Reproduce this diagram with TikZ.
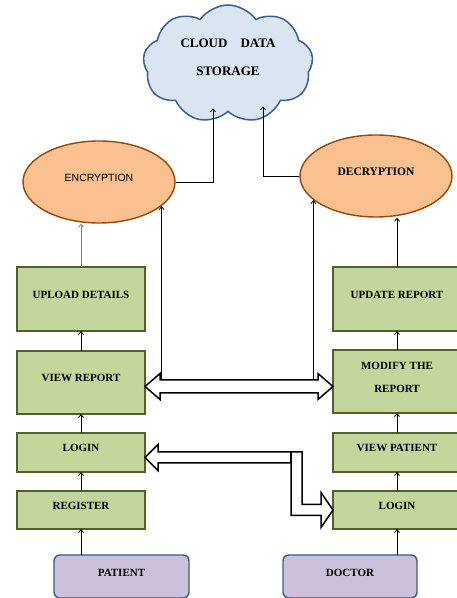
\documentclass[tikz,border=0pt]{standalone}
\usepackage{fontspec}
\setmainfont{Liberation Serif}
\newfontfamily\encfont{Liberation Sans}
\usetikzlibrary{arrows.meta, positioning, shapes.geometric, shapes.symbols, calc}

\definecolor{boxfill}{HTML}{C3D69B}
\definecolor{boxline}{HTML}{4F6228}
\definecolor{ovalfill}{HTML}{FAC08F}
\definecolor{ovalline}{HTML}{984807}
\definecolor{cloudfill}{HTML}{DBE5F1}
\definecolor{cloudline}{HTML}{376092}
\definecolor{actfill}{HTML}{CCC0DA}
\definecolor{actline}{HTML}{385D8A}

\begin{document}
\begin{tikzpicture}[x=1pt, y=1pt, >={Straight Barb[length=3pt,width=5pt]},
		block/.style={draw=boxline, fill=boxfill, line width=1.4pt, rectangle, outer sep=0pt, minimum width=128pt, align=center, font=\fontsize{11}{13}\selectfont\bfseries, text depth=9pt},
		actor/.style={draw=actline, fill=actfill, line width=1.4pt, rounded corners=6pt, outer sep=0pt, minimum width=135pt, minimum height=43pt, font=\fontsize{11}{13}\selectfont\bfseries, text depth=8pt},
		oval/.style={ellipse, draw=ovalline, fill=ovalfill, line width=1.4pt, minimum width=152pt, minimum height=82pt, text depth=9pt},
		hollow/.style={draw, fill=white, line width=1.5pt, line join=miter},
		link/.style={->, line width=0.8pt}]
		
		\useasboundingbox (0,0) rectangle (456,598);
		
		% Nuvola e cifratura
		\node [cloud, cloud puffs=9, cloud puff arc=110, aspect=1.5, draw=cloudline, fill=cloudfill, line width=1.5pt, minimum width=170pt, minimum height=118pt, align=center, font=\fontsize{13}{15}\selectfont\bfseries, text depth=14pt] (cloud) at (228,534) {CLOUD\quad DATA\\[13pt]STORAGE};
		\node [oval, font=\encfont\fontsize{10.5}{12}\selectfont] (enc) at (99,416) {ENCRYPTION};
		\node [oval, font=\fontsize{11.5}{13}\selectfont\bfseries] (dec) at (376,422) {DECRYPTION};
		
		% Colonna paziente
		\node [block, minimum height=64pt] (upl) at (81,299) {UPLOAD DETAILS};
		\node [block, minimum height=63pt, below=20pt of upl] (vrep) {VIEW REPORT};
		\node [block, minimum height=39pt, below=19pt of vrep] (llog) {LOGIN};
		\node [block, minimum height=38pt, below=19pt of llog] (reg) {REGISTER};
		\node [actor] (pat) at (121.5,21.5) {PATIENT};
		
		% Colonna dottore
		\node [block, minimum height=64pt] (upd) at (397,299) {UPDATE REPORT};
		\node [block, minimum height=63pt, below=19pt of upd] (modr) {MODIFY THE\\[10pt]REPORT};
		\node [block, minimum height=39pt, below=20pt of modr] (vpat) {VIEW PATIENT};
		\node [block, minimum height=38pt, below=19pt of vpat] (rlog) {LOGIN};
		\node [actor, minimum width=134pt] (doc) at (350,21.5) {DOCTOR};
		
		% Collegamenti paziente
		\draw [link] (reg.south |- pat.north) -- (reg.south);
		\draw [link] (reg) -- (llog);
		\draw [link] (llog) -- (vrep);
		\draw [link] (vrep) -- (upl);
		\draw [link, gray] (upl.north) -- (upl.north |- enc.south);
		
		% Collegamenti dottore
		\draw [link] (rlog.south |- doc.north) -- (rlog.south);
		\draw [link] (rlog) -- (vpat);
		\draw [link] (vpat) -- (modr);
		\draw [link] (modr) -- (upd);
		\draw [link] (upd.north) -- (upd.north |- dec.south);
		
		% Verso la nuvola
		\draw [link] (enc.east) -| ([xshift=-15pt,yshift=4pt]cloud.south);
		\draw [link] (dec.west) -| ([xshift=35pt,yshift=6pt]cloud.south);
		
		% Frecce doppie vuote
		\coordinate (ha) at ([yshift=-4pt]vrep.east);
		\coordinate (hb) at (ha -| modr.west);
		\draw [link] ($(ha -| enc.-21)+(0,6.5)$) -- (enc.-21);
		\draw [link] ($(ha -| dec.201)+(0,6.5)$) -- (dec.201);
		\draw [hollow] (ha) -- ++(15,13) -- ++(0,-6.5) -- ($(hb)+(-15,6.5)$) -- ++(0,6.5) -- (hb)
			-- ++(-15,-13) -- ++(0,6.5) -- ($(ha)+(15,-6.5)$) -- ++(0,-6.5) -- cycle;
		
		\coordinate (la) at ([yshift=-5pt]llog.east);
		\draw [hollow] (la) -- ++(13,13) -- ++(0,-7.5) -| ($(rlog.west)+(-31,5.5)$) -- ++(19,0) -- ++(0,12) -- (rlog.west)
			-- ++(-12,-17.5) -- ++(0,12) -- ++(-30,0) |- ($(la)+(13,-5.5)$) -- ++(0,-7.5) -- cycle;
		\draw [line width=1.5pt] ($(la)+(146,5.5)$) -- ++(0,-11);
		
	\end{tikzpicture}
\end{document}
